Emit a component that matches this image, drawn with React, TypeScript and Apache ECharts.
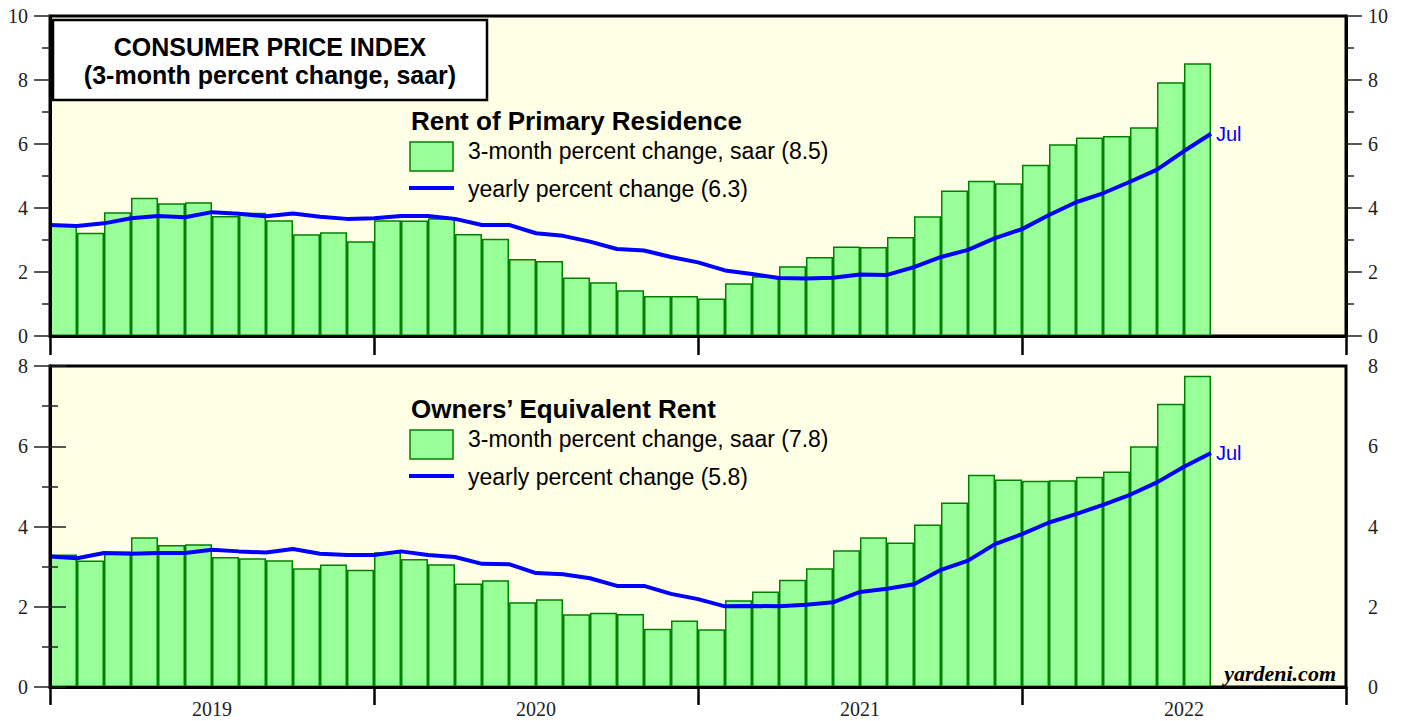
import React, { useEffect, useRef } from "react";
import * as echarts from "echarts";

const years = ["2019", "2020", "2021", "2022"];
const monthNames = ["Jan", "Feb", "Mar", "Apr", "May", "Jun", "Jul", "Aug", "Sep", "Oct", "Nov", "Dec"];
const lastMonth = "Jul";

// Rent of Primary Residence: 3-month % change saar, Jan 2019 - Jul 2022
const rentBars = [
  3.5, 3.23, 3.87, 4.32, 4.15, 4.18, 3.75, 3.85, 3.62, 3.18, 3.24, 2.96,
  3.62, 3.61, 3.68, 3.19, 3.04, 2.41, 2.34, 1.83, 1.68, 1.43, 1.25, 1.25,
  1.17, 1.65, 1.87, 2.18, 2.47, 2.8, 2.78, 3.09, 3.74, 4.55, 4.85, 4.77,
  5.35, 5.99, 6.2, 6.25, 6.52, 7.93, 8.52,
];
// yearly % change, Dec 2018 - Jul 2022
const rentYoY = [
  3.47,
  3.44, 3.52, 3.68, 3.75, 3.71, 3.87, 3.82, 3.74, 3.83, 3.73, 3.66, 3.68,
  3.75, 3.75, 3.66, 3.47, 3.47, 3.21, 3.13, 2.95, 2.72, 2.67, 2.47, 2.3,
  2.05, 1.94, 1.81, 1.8, 1.82, 1.92, 1.91, 2.15, 2.47, 2.69, 3.06, 3.34,
  3.78, 4.18, 4.46, 4.82, 5.2, 5.78, 6.32,
];
// Owners' Equivalent Rent
const oerBars = [
  3.3, 3.15, 3.38, 3.73, 3.54, 3.56, 3.24, 3.21, 3.16, 2.96, 3.05, 2.92,
  3.36, 3.19, 3.06, 2.58, 2.66, 2.11, 2.19, 1.81, 1.85, 1.82, 1.45, 1.66,
  1.44, 2.16, 2.38, 2.67, 2.96, 3.41, 3.73, 3.6, 4.05, 4.6, 5.29, 5.17,
  5.14, 5.15, 5.24, 5.37, 6.0, 7.06, 7.76,
];
const oerYoY = [
  3.25,
  3.21, 3.34, 3.32, 3.34, 3.34, 3.42, 3.38, 3.35, 3.44, 3.32, 3.29, 3.29,
  3.38, 3.29, 3.24, 3.07, 3.06, 2.84, 2.81, 2.71, 2.52, 2.52, 2.32, 2.19,
  2.01, 2.02, 2.01, 2.05, 2.11, 2.37, 2.45, 2.56, 2.92, 3.15, 3.56, 3.81,
  4.1, 4.31, 4.54, 4.79, 5.1, 5.49, 5.83,
];

const months: string[] = [];
years.forEach((y) => monthNames.forEach((m) => months.push(m + " " + y)));

const SANS = "'Liberation Sans', Arial, Helvetica, sans-serif";
const SERIF = "'Liberation Serif', 'Times New Roman', serif";
const BG = "#FFFFE6";
const BAR_FILL = "#99FF99";
const BAR_EDGE = "#008000";
const BLUE = "#0000FF";

function yAxisDef(grid: number, pos: "left" | "right", max: number) {
  return {
    type: "value",
    gridIndex: grid,
    position: pos,
    min: 0,
    max,
    interval: 2,
    z: 10,
    axisLine: { show: true, lineStyle: { color: "#000", width: 3 } },
    axisTick: { show: true, inside: false, length: 16, lineStyle: { color: "#222", width: 1.5 } },
    minorTick: { show: true, splitNumber: 2, length: 8, lineStyle: { color: "#222", width: 1.5 } },
    axisLabel: { color: "#222", fontFamily: SERIF, fontSize: 20, margin: 22 },
    splitLine: { show: false },
    minorSplitLine: { show: false },
  };
}

function catAxis(grid: number) {
  return {
    type: "category",
    gridIndex: grid,
    position: "bottom",
    data: months,
    z: 10,
    axisLine: { show: true, onZero: false, lineStyle: { color: "#000", width: 3 } },
    axisTick: { show: false },
    axisLabel: { show: false },
    splitLine: { show: false },
  };
}

function tickAxis(grid: number, len: number) {
  return {
    type: "value",
    gridIndex: grid,
    position: "bottom",
    min: 0,
    max: 48,
    interval: 12,
    z: 10,
    axisLine: { show: false, onZero: false },
    axisTick: { show: true, length: len, lineStyle: { color: "#000", width: 2.5 } },
    axisLabel: { show: false },
    splitLine: { show: false },
  };
}

function lineSeries(xIdx: number, yIdx: number, vals: number[]) {
  return {
    type: "line",
    xAxisIndex: xIdx,
    yAxisIndex: yIdx,
    data: vals.map((v, i) => [i, v]),
    symbol: "none",
    z: 4,
    lineStyle: { color: BLUE, width: 4 },
    endLabel: {
      show: true,
      formatter: () => lastMonth,
      color: BLUE,
      fontFamily: SANS,
      fontSize: 20,
      distance: 5,
    },
  };
}

function barSeries(xIdx: number, yIdx: number, vals: number[]) {
  return {
    type: "bar",
    xAxisIndex: xIdx,
    yAxisIndex: yIdx,
    data: vals,
    barCategoryGap: "0%",
    z: 3,
    itemStyle: { color: BAR_FILL, borderColor: BAR_EDGE, borderWidth: 1.5 },
  };
}

function txt(x: number, y: number, text: string, font: string, align = "left", fill = "#000") {
  return {
    type: "text",
    x,
    y,
    z: 100,
    style: { text, font, fill, align, verticalAlign: "middle" },
  };
}

function legend(dy: number, header: string, barLabel: string, lineLabel: string) {
  return [
    txt(411, 121 + dy, header, `bold 26px ${SANS}`),
    {
      type: "rect",
      z: 100,
      shape: { x: 410, y: 142 + dy, width: 43, height: 29 },
      style: { fill: BAR_FILL, stroke: BAR_EDGE, lineWidth: 1.5 },
    },
    txt(468, 151 + dy, barLabel, `23px ${SANS}`),
    {
      type: "line",
      z: 100,
      shape: { x1: 409, y1: 188 + dy, x2: 454, y2: 188 + dy },
      style: { stroke: BLUE, lineWidth: 4 },
    },
    txt(468, 189 + dy, lineLabel, `23px ${SANS}`),
  ];
}

export default function App() {
  const ref = useRef<HTMLDivElement>(null);
  useEffect(() => {
    if (!ref.current) return;
    const chart = echarts.init(ref.current, undefined, { renderer: "svg" });
    const option: any = {
      animation: false,
      backgroundColor: "#fff",
      grid: [
        { left: 50, top: 16, width: 1296, height: 320, show: true, backgroundColor: BG, borderColor: "#000", borderWidth: 3 },
        { left: 50, top: 366, width: 1296, height: 321, show: true, backgroundColor: BG, borderColor: "#000", borderWidth: 3 },
      ],
      xAxis: [
        catAxis(0),
        tickAxis(0, 19),
        catAxis(1),
        tickAxis(1, 18),
        {
          type: "value",
          gridIndex: 1,
          position: "bottom",
          min: 0,
          max: 48,
          interval: 6,
          axisLine: { show: false, onZero: false },
          axisTick: { show: false },
          splitLine: { show: false },
          axisLabel: {
            show: true,
            color: "#222",
            fontFamily: SERIF,
            fontSize: 20,
            margin: 12,
            formatter: (v: number) => (v % 12 === 6 ? years[(v - 6) / 12] : ""),
          },
        },
      ],
      yAxis: [yAxisDef(0, "left", 10), yAxisDef(0, "right", 10), yAxisDef(1, "left", 8), yAxisDef(1, "right", 8)],
      series: [
        barSeries(0, 0, rentBars),
        lineSeries(1, 0, rentYoY),
        barSeries(2, 2, oerBars),
        lineSeries(3, 2, oerYoY),
      ],
      graphic: [
        {
          type: "rect",
          z: 100,
          shape: { x: 53, y: 20, width: 434, height: 80 },
          style: { fill: "#fff", stroke: "#000", lineWidth: 2.5 },
        },
        txt(270, 47, "CONSUMER PRICE INDEX", `bold 25px ${SANS}`, "center"),
        txt(270, 75, "(3-month percent change, saar)", `bold 25px ${SANS}`, "center"),
        ...legend(0, "Rent of Primary Residence", "3-month percent change, saar (8.5)", "yearly percent change (6.3)"),
        ...legend(288, "Owners\u2019 Equivalent Rent", "3-month percent change, saar (7.8)", "yearly percent change (5.8)"),
        txt(1336, 673, "yardeni.com", `italic bold 22px ${SERIF}`, "right"),
      ],
    };
    chart.setOption(option);
    return () => chart.dispose();
  }, []);
  return <div ref={ref} style={{ position: "absolute", left: 0, top: 0, width: 1405, height: 721 }} />;
}
